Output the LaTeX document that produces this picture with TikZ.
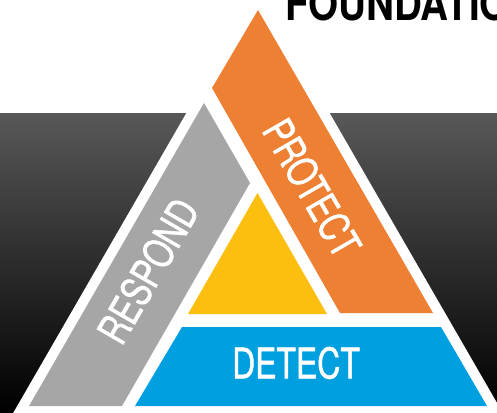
\documentclass[tikz,border=0pt]{standalone}
\usepackage{fontspec}
\newfontfamily\labelfont{TeX Gyre Heros}[FakeStretch=0.76, FakeBold=1.2]
\newfontfamily\titlefont{TeX Gyre Heros}[FakeStretch=0.84]
\definecolor{protectorange}{RGB}{238,128,51}
\definecolor{respondgray}{RGB}{166,166,166}
\definecolor{detectblue}{RGB}{0,160,224}
\definecolor{coreyellow}{RGB}{252,191,16}
\definecolor{backtop}{RGB}{88,88,88}
\begin{document}
\begin{tikzpicture}[
    x=1pt, y=-1pt,
    every node/.style={inner sep=0pt, align=center},
    segment label/.style={text=white, font=\labelfont\fontsize{42}{42}\selectfont},
    title label/.style={text=black, font=\titlefont\bfseries\fontsize{46}{46}\selectfont},
    ]
\useasboundingbox (0,0) rectangle (497,412);
\shade[top color=backtop, middle color=black!90, bottom color=black] (0,113) rectangle (497,412);
\fill[white] (258,-11) -- (504.8,416.4) -- (11.2,416.4) -- cycle;
\fill[protectorange] (258,10) -- (433,313) -- (340,313) -- (212,88) -- cycle;
\fill[respondgray] (204,103) -- (250,183) -- (122,406) -- (29,406) -- cycle;
\fill[detectblue] (182,327) -- (441,327) -- (487,406) -- (135,406) -- cycle;
\fill[coreyellow] (188,314) -- (327,314) -- (257.5,193) -- cycle;
\node[segment label, rotate=60] (respond) at (148,271) {RESPOND};
\node[segment label, rotate=-60] (protect) at (312,188) {PROTECT};
\node[segment label] (detect) at (296,363) {DETECT};
\node[title label, anchor=base west] (foundation) at (285,21) {FOUNDATION};
\end{tikzpicture}
\end{document}
